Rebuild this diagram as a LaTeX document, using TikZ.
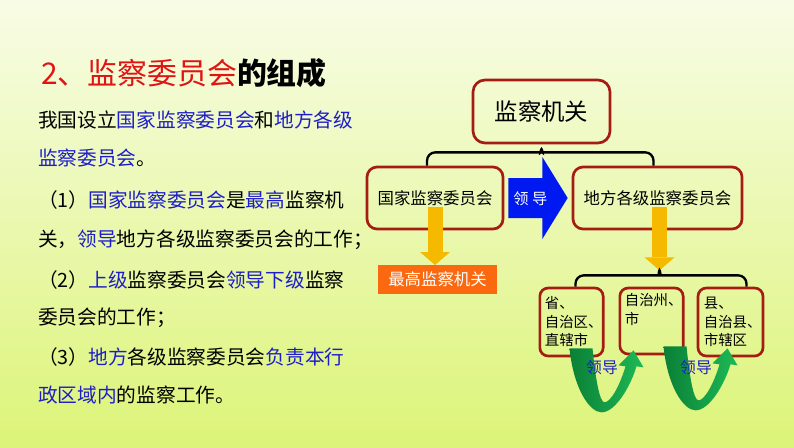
\documentclass[tikz,border=0pt]{standalone}
\usepackage{fontspec}
\setmainfont{Noto Sans CJK SC}
\usepackage{xcolor}
\usepackage{tikz}
\usetikzlibrary{arrows.meta, positioning, calc}

\definecolor{boxred}{RGB}{165,28,18}
\definecolor{titlered}{RGB}{225,20,20}
\definecolor{keyblue}{RGB}{30,30,200}
\definecolor{gold}{RGB}{245,185,0}
\definecolor{orangebox}{RGB}{250,105,15}
\definecolor{arrowblue}{RGB}{0,25,240}
\definecolor{gdark}{RGB}{10,128,55}
\definecolor{glight}{RGB}{30,185,85}
\definecolor{bgtop}{RGB}{248,252,230}
\definecolor{bgmid}{RGB}{236,249,182}
\definecolor{bgbot}{RGB}{220,244,120}

\newcommand{\kw}[1]{\textcolor{keyblue}{#1}}

\begin{document}
\begin{tikzpicture}[
  x=0.03cm, y=-0.03cm,
  txt/.style={anchor=west, inner sep=0pt, font=\fontsize{16.8}{20}\selectfont},
  box/.style={
    draw=boxred,
    line width=0.08cm,
    rounded corners=0.3cm,
    align=center,
    minimum height=1.86cm,
    font=\fontsize{14}{17}\selectfont
  },
  smallbox/.style={
    box,
    align=left,
    text width=1.6cm,
    inner xsep=0.15cm,
    minimum width=1.89cm,
    minimum height=2.04cm,
    rounded corners=0.25cm,
    font=\fontsize{12.3}{15.8}\selectfont
  },
  goldarrow/.style={draw=gold, line width=0.45cm,
    -{Triangle[width=0.9cm, length=0.39cm, line width=0pt]}},
  brace/.style={draw=black, line width=0.07cm, rounded corners=0.25cm}
]

% Fondo
\shade[top color=bgtop, middle color=bgmid, bottom color=bgbot] (0,0) rectangle (794,447);
\useasboundingbox (0,0) rectangle (794,447);

% Titulo y texto
\node[anchor=west, inner sep=0pt, font=\fontsize{25.5}{30}\selectfont] (title) at (41,73)
  {\textcolor{titlered}{2、监察委员会}\textbf{的组成}};
\node[txt] (l1) at (38,120) {我国设立\kw{国家监察委员会}和\kw{地方各级}};
\node[txt] (l2) at (38,158) {\kw{监察委员会}。};
\node[txt] (l3) at (38,200) {（1）\kw{国家监察委员会}是\kw{最高}监察机};
\node[txt] (l4) at (38,240) {关，\kw{领导}地方各级监察委员会的工作；};
\node[txt] (l5) at (38,280) {（2）\kw{上级}监察委员会\kw{领导下级}监察};
\node[txt] (l6) at (38,318) {委员会的工作；};
\node[txt] (l7) at (38,357) {（3）\kw{地方}各级监察委员会\kw{负责本行}};
\node[txt] (l8) at (38,395) {\kw{政区域内}的监察工作。};

% Cajas del esquema
\node[box, minimum width=4.11cm, minimum height=1.89cm, rounded corners=0.36cm,
  font=\fontsize{20}{24}\selectfont] (organ) at (541.5,111.5) {监察机关};
\node[box, minimum width=4.08cm] (nat) at (435,198) {国家监察委员会};
\node[box, minimum width=5.07cm] (loc) at (657.5,198) {地方各级监察委员会};

\node[smallbox] (pa) at (571.5,322) {省、\\自治区、\\直辖市};
\node[smallbox, minimum height=1.98cm] (pb) at (651.5,321) {自治州、\\市\\\strut};
\node[smallbox, minimum width=1.95cm] (pc) at (730.5,322) {县、\\自治县、\\市辖区};

% Llave superior
\draw[brace] ($(nat.north)+(-8,0)$) |- ($(organ.south)+(-7,8)$)
  .. controls ($(organ.south)+(-1,8)$) .. (organ.south)
  .. controls ($(organ.south)+(1,8)$) .. ($(organ.south)+(7,8)$)
  -| ($(loc.north)+(-4,0)$);

% Flecha azul
\fill[arrowblue] ($(nat.east)+(4,-20)$) -- ($(nat.east)+(38,-20)$) -- ($(nat.east)+(38,-41)$)
  -- ($(loc.west)+(-4,0)$) -- ($(nat.east)+(38,41)$) -- ($(nat.east)+(38,20)$)
  -- ($(nat.east)+(4,20)$) -- cycle;
\node[text=white, font=\fontsize{13}{15}\selectfont] (lead) at ($(nat.east)+(26,1)$) {领 导};

% Flechas amarillas
\draw[goldarrow] ($(nat.center)+(0,9)$) -- ($(nat.center)+(0,67)$);
\node[fill=orangebox, text=white, minimum width=3.57cm, minimum height=0.87cm, inner sep=0pt,
  font=\fontsize{14}{17}\selectfont] (peak) at (437.5,279.5) {最高监察机关};

\coordinate (hub) at ($(loc.south)+(2,35)$);
\draw[goldarrow] ($(loc.center)+(2,9)$) -- ($(hub)+(0,5)$);

% Llave inferior
\draw[brace] ($(pa.north)+(4,0)$) |- ($(hub)+(-7,10)$)
  .. controls ($(hub)+(-1,10)$) .. (hub)
  .. controls ($(hub)+(1,10)$) .. ($(hub)+(7,10)$)
  -| ($(pc.north)+(16,0)$);

% Arcos verdes
\foreach \src/\dx in {pa/-2, pb/12}{
  \begin{scope}[shift={($(\src.south)+(\dx,-9)$)}]
    \shade[left color=gdark, right color=glight]
      (0,0) .. controls (4,40) and (20,64) .. (32,64)
      .. controls (46,64) and (61,38) .. (67,18)
      -- (74,19) -- (64,2) -- (49,17) -- (56,18)
      .. controls (50,38) and (41,54) .. (35,54)
      .. controls (30,54) and (26,30) .. (23,0) -- cycle;
  \end{scope}
}
\node[text=keyblue, font=\fontsize{13.5}{15}\selectfont] (lead1) at (602,368) {领导};
\node[text=keyblue, font=\fontsize{13.5}{15}\selectfont] (lead2) at (696,368) {领导};

\end{tikzpicture}
\end{document}
